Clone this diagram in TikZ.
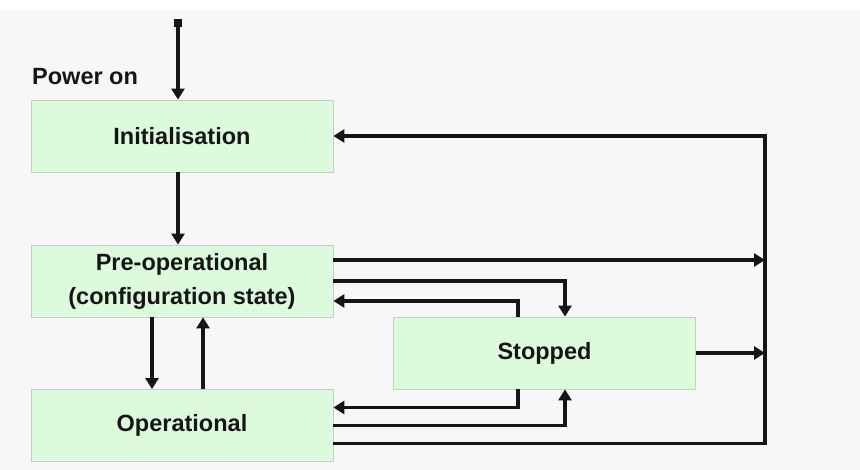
\documentclass[tikz,border=0pt]{standalone}
\usepackage{fontspec}
\setmainfont{Liberation Sans}
\usetikzlibrary{arrows.meta,calc}
\definecolor{bg}{HTML}{F7F7F7}
\definecolor{boxfill}{HTML}{DDFADD}
\definecolor{boxline}{HTML}{C2D2C2}
\definecolor{ink}{HTML}{151515}
\begin{document}
\begin{tikzpicture}[x=1pt,y=1pt,
  state/.style={draw=boxline, fill=boxfill, line width=0.8pt, minimum width=302pt,
    minimum height=72pt, inner sep=0pt, align=center, text=ink,
    font=\fontsize{23.5}{34}\selectfont\bfseries},
  arr/.style={line width=3.6pt, draw=ink, -{Triangle[length=11pt,width=13pt]}},
  lbl/.style={font=\fontsize{23.5}{26}\selectfont\bfseries, text=ink, inner sep=0pt}]
\fill[bg] (0,0) rectangle (860,470);
\fill[white] (0,460) rectangle (860,470);
\useasboundingbox (0,0) rectangle (860,470);
\coordinate (rail) at (765,0);
\node[state] (init) at (182,334) {Initialisation};
\node[state] (pre) at (182,189) {Pre-operational\\(configuration state)};
\node[state] (op) at (182,44.5) {Operational};
\node[state] (stopped) at (544.5,117) {Stopped};
\node[lbl, anchor=base west] (pwr) at (32,385) {Power on};
\node[fill=ink, minimum size=8pt, inner sep=0pt] (src) at (178,447) {};
% power on
\coordinate (initin) at ([xshift=-4]init.north);
\draw[arr] (src.center) -- (initin);
% init -> pre
\draw[arr] ([xshift=-4]init.south) -- ([xshift=-4]pre.north);
% pre <-> op
\draw[arr] ([xshift=-30]pre.south) -- ([xshift=-30]op.north);
\draw[arr] ([xshift=21]op.north) -- ([xshift=21]pre.south);
% pre -> rail
\coordinate (p1) at ([yshift=21]pre.east);
\draw[arr] (p1) -- (p1 -| rail);
% pre -> stopped
\draw[arr] (pre.east) -| ([xshift=20.5]stopped.north);
% stopped -> pre
\draw[arr] ([xshift=-26.5]stopped.north) |- ([yshift=-20]pre.east);
% stopped -> rail
\draw[arr] (stopped.east) -- (stopped.east -| rail);
% stopped -> op
\draw[arr] ([xshift=-26.5]stopped.south) |- ([yshift=18]op.east);
% op -> stopped
\draw[arr] (op.east) -| ([xshift=20.5]stopped.south);
% op -> rail -> init
\coordinate (o3) at ([yshift=-18]op.east);
\draw[arr, line join=miter] (o3) -| (init.east -| rail) -- (init.east);
\end{tikzpicture}
\end{document}
